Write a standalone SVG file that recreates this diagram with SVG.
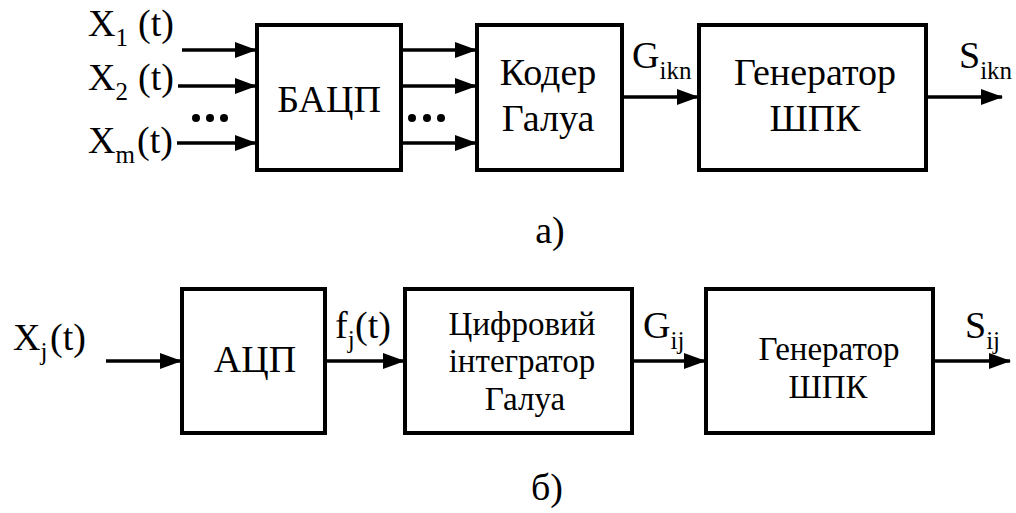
<svg xmlns="http://www.w3.org/2000/svg" width="1016" height="513" viewBox="0 0 1016 513">
<defs>
<style>
text{font-family:"Liberation Serif",Tinos,"Times New Roman",Times,"Noto Serif","DejaVu Serif",FreeSerif,serif}
.big{font-size:38px}
.mid{font-size:33px}
.sub{font-size:25px}
.box{fill:#fff;stroke:#000;stroke-width:4}
.ln{stroke:#000;stroke-width:3.5;fill:none;marker-end:url(#ah)}
</style>
<marker id="ah" markerUnits="userSpaceOnUse" markerWidth="22" markerHeight="18" refX="21" refY="9" orient="auto">
<path d="M0,1 L22,9 L0,17 Z" fill="#000"/>
</marker>
</defs>
<rect width="1016" height="513" fill="#fff"/>

<g id="connectors">
<line class="ln" x1="182" y1="50" x2="256" y2="50"/>
<line class="ln" x1="178" y1="86" x2="256" y2="86"/>
<line class="ln" x1="177" y1="143" x2="256" y2="143"/>
<line class="ln" x1="401" y1="50" x2="476" y2="50"/>
<line class="ln" x1="401" y1="86" x2="476" y2="86"/>
<line class="ln" x1="401" y1="143" x2="476" y2="143"/>
<line class="ln" x1="622" y1="97" x2="698" y2="97"/>
<line class="ln" x1="926" y1="97" x2="1002" y2="97"/>
<line class="ln" x1="106" y1="361" x2="181" y2="361"/>
<line class="ln" x1="325" y1="361" x2="404" y2="361"/>
<line class="ln" x1="632" y1="361" x2="705" y2="361"/>
<line class="ln" x1="933" y1="361" x2="1010" y2="361"/>
</g>

<g id="dots">
<circle cx="196" cy="118" r="4"/>
<circle cx="210" cy="118" r="4"/>
<circle cx="224" cy="118" r="4"/>
<circle cx="412" cy="118" r="4"/>
<circle cx="427" cy="118" r="4"/>
<circle cx="441" cy="118" r="4"/>
</g>

<g id="labels" style="font-family:'Liberation Serif',serif">
<text class="big" x="88" y="36">X<tspan class="sub" dy="10">1</tspan><tspan x="138" dy="-10">(t)</tspan></text>
<text class="big" x="88" y="90">X<tspan class="sub" dy="10">2</tspan><tspan x="138" dy="-10">(t)</tspan></text>
<text class="big" x="88" y="153">X<tspan class="sub" dy="10">m</tspan><tspan x="137" dy="-10">(t)</tspan></text>
<text class="big" x="632" y="68">G<tspan class="sub" dy="11">ikn</tspan></text>
<text class="big" x="959" y="68">S<tspan class="sub" dy="11">ikn</tspan></text>
<text class="big" x="550" y="243" text-anchor="middle">а)</text>
<text class="big" x="13" y="350">X<tspan class="sub" dy="10">j</tspan><tspan x="50" dy="-10">(t)</tspan></text>
<text class="big" x="335" y="338">f<tspan class="sub" dy="10">j</tspan><tspan x="355" dy="-10">(t)</tspan></text>
<text class="big" x="643" y="338">G<tspan class="sub" dy="11">ij</tspan></text>
<text class="big" x="965" y="338">S<tspan class="sub" dy="11">ij</tspan></text>
<text class="big" x="547" y="500" text-anchor="middle">б)</text>
</g>

<g id="n-bacp">
<rect class="box" x="257" y="25" width="144" height="145"/>
<text class="big" x="329" y="112" text-anchor="middle">БАЦП</text>
</g>
<g id="n-coder">
<rect class="box" x="477" y="25" width="145" height="145"/>
<text class="big" x="548" y="85" text-anchor="middle">Кодер</text>
<text class="big" x="548" y="131" text-anchor="middle">Галуа</text>
</g>
<g id="n-gen1">
<rect class="box" x="699" y="25" width="227" height="145"/>
<text class="big" x="815" y="85" text-anchor="middle">Генератор</text>
<text class="big" x="815" y="131" text-anchor="middle">ШПК</text>
</g>
<g id="n-acp">
<rect class="box" x="182" y="289" width="143" height="144"/>
<text class="big" x="255" y="372" text-anchor="middle">АЦП</text>
</g>
<g id="n-integr">
<rect class="box" x="405" y="289" width="227" height="144"/>
<text class="mid" x="522" y="335" text-anchor="middle">Цифровий</text>
<text class="mid" x="522" y="372" text-anchor="middle">інтегратор</text>
<text class="mid" x="525" y="410" text-anchor="middle">Галуа</text>
</g>
<g id="n-gen2">
<rect class="box" x="706" y="289" width="227" height="144"/>
<text class="mid" x="829" y="360" text-anchor="middle">Генератор</text>
<text class="mid" x="828" y="398" text-anchor="middle">ШПК</text>
</g>
</svg>
